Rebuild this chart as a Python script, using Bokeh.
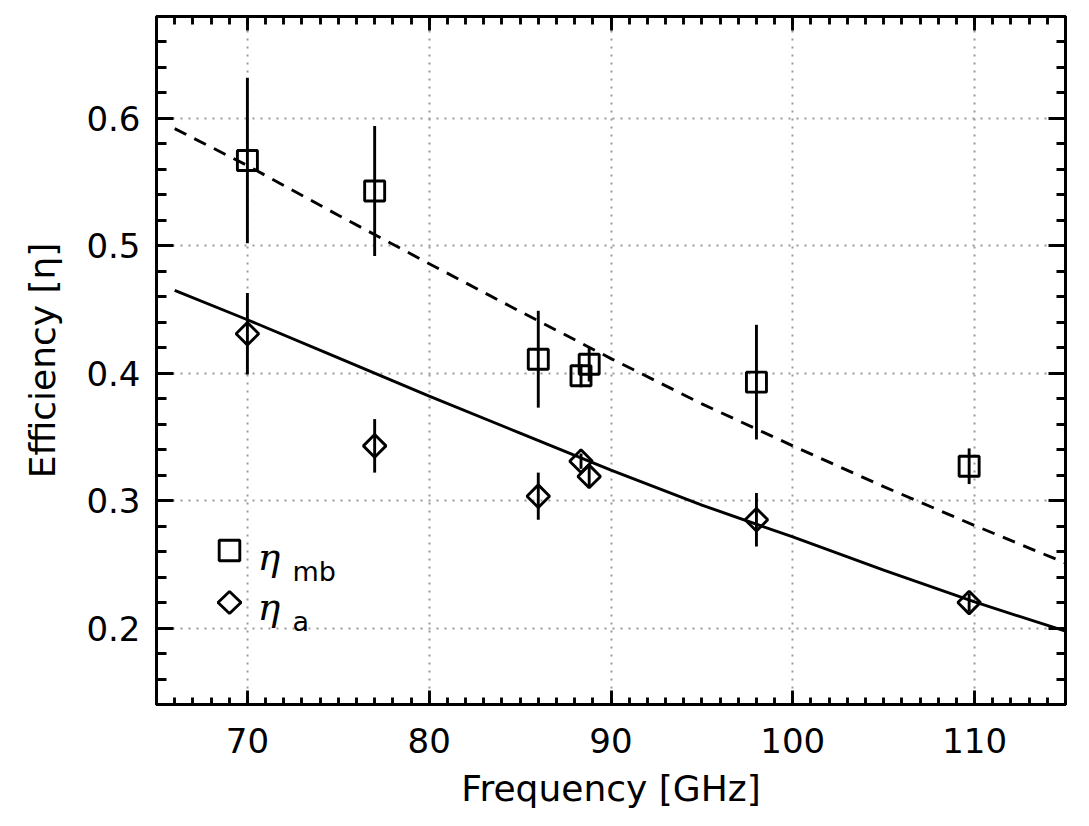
import math
from bokeh.plotting import figure
from bokeh.models import (Range1d, LinearAxis, SingleIntervalTicker, Label,
                          PolyAnnotation, ColumnDataSource, CustomJSTickFormatter)
from bokeh.embed import file_html
from bokeh.resources import INLINE

# ---------------- data ----------------
freq_mb = [70.0, 77.0, 86.0, 88.35, 88.8, 98.0, 109.7]
eta_mb = [0.567, 0.543, 0.411, 0.398, 0.407, 0.393, 0.327]
err_mb = [0.065, 0.051, 0.038, 0.009, 0.0135, 0.045, 0.014]

freq_a = [70.0, 77.0, 86.0, 88.35, 88.8, 98.0, 109.7]
eta_a = [0.431, 0.343, 0.3035, 0.331, 0.319, 0.285, 0.220]
err_a = [0.032, 0.021, 0.0185, 0.006, 0.009, 0.021, 0.007]

curve_freq = [66, 70, 75, 80, 85, 90, 95, 100, 105, 110, 115]
curve_mb = [0.592, 0.563, 0.524, 0.486, 0.4485, 0.4115, 0.376, 0.343, 0.311, 0.2805, 0.251]
curve_a = [0.465, 0.442, 0.412, 0.382, 0.353, 0.324, 0.2965, 0.2715, 0.2455, 0.2205, 0.1975]

x_label = "Frequency [GHz]"
y_label = "Efficiency [η]"
legend_main = "η"
legend_subs = ["mb", "a"]

# ---------------- figure ----------------
LW = 2.9
FONT = "DejaVu Sans"

p = figure(frame_width=909, frame_height=688,
           x_range=Range1d(65, 115), y_range=Range1d(0.14, 0.68),
           output_backend="svg", toolbar_location=None,
           min_border_left=156, min_border_right=16,
           min_border_top=16, min_border_bottom=114,
           background_fill_color="white", border_fill_color="white")

p.outline_line_color = "black"
p.outline_line_width = LW

p.xaxis.ticker = SingleIntervalTicker(interval=10, num_minor_ticks=10)
p.yaxis.ticker = SingleIntervalTicker(interval=0.1, num_minor_ticks=5)


def style_axis(ax, tick_major, tick_minor, labels=True):
    ax.axis_line_color = "black"
    ax.axis_line_width = LW
    ax.major_tick_line_color = "black"
    ax.major_tick_line_width = LW
    ax.minor_tick_line_color = "black"
    ax.minor_tick_line_width = LW
    ax.major_tick_in = tick_major
    ax.major_tick_out = 0
    ax.minor_tick_in = tick_minor
    ax.minor_tick_out = 0
    if labels:
        ax.major_label_text_font = FONT
        ax.major_label_text_font_size = "34px"
        ax.major_label_text_color = "black"
        ax.axis_label_text_font = FONT
        ax.axis_label_text_font_size = "36px"
        ax.axis_label_text_font_style = "normal"
        ax.axis_label_text_color = "black"
    else:
        ax.formatter = CustomJSTickFormatter(code="return ''")
        ax.major_label_text_font_size = "8px"
        ax.major_label_standoff = 0


style_axis(p.xaxis[0], 14, 7)
style_axis(p.yaxis[0], 17, 10)
p.xaxis[0].axis_label = x_label
p.yaxis[0].axis_label = y_label
p.xaxis[0].major_label_standoff = 23
p.xaxis[0].axis_label_standoff = 12
p.yaxis[0].major_label_standoff = 16
p.yaxis[0].axis_label_standoff = 20

top_ax = LinearAxis(ticker=SingleIntervalTicker(interval=10, num_minor_ticks=10))
right_ax = LinearAxis(ticker=SingleIntervalTicker(interval=0.1, num_minor_ticks=5))
style_axis(top_ax, 14, 8, labels=False)
style_axis(right_ax, 17, 9, labels=False)
p.add_layout(top_ax, "above")
p.add_layout(right_ax, "right")

for g in (p.xgrid[0], p.ygrid[0]):
    g.grid_line_color = "#999999"
    g.grid_line_width = 2
    g.grid_line_dash = "2 6"

# ---------------- model curves ----------------
p.line(curve_freq, curve_mb, line_color="black", line_width=LW, line_dash="13 9")
p.line(curve_freq, curve_a, line_color="black", line_width=LW)

# ---------------- error bars ----------------
src_mb = ColumnDataSource(dict(
    f=freq_mb, v=eta_mb,
    lo=[v - e for v, e in zip(eta_mb, err_mb)],
    hi=[v + e for v, e in zip(eta_mb, err_mb)]))
src_a = ColumnDataSource(dict(
    f=freq_a, v=eta_a,
    lo=[v - e for v, e in zip(eta_a, err_a)],
    hi=[v + e for v, e in zip(eta_a, err_a)]))

p.segment(x0="f", y0="lo", x1="f", y1="hi", source=src_mb, line_color="black", line_width=LW)
p.segment(x0="f", y0="lo", x1="f", y1="hi", source=src_a, line_color="black", line_width=LW)

# ---------------- markers ----------------
p.scatter(x="f", y="v", source=src_mb, marker="square", size=20,
          fill_alpha=0, line_color="black", line_width=LW)
p.scatter(x="f", y="v", source=src_a, marker="square", size=16, angle=math.pi / 4,
          fill_alpha=0, line_color="black", line_width=LW)

# ---------------- legend (screen units, relative to frame) ----------------
cx, cy1, cy2 = 73, 154, 102
h = 10.3
p.add_layout(PolyAnnotation(xs=[cx - h, cx + h, cx + h, cx - h], ys=[cy1 - h, cy1 - h, cy1 + h, cy1 + h],
                            xs_units="screen", ys_units="screen",
                            fill_alpha=0, line_color="black", line_alpha=1, line_width=LW))
p.add_layout(PolyAnnotation(xs=[cx - 11.5, cx, cx + 11.5, cx], ys=[cy2, cy2 - 11, cy2, cy2 + 11],
                            xs_units="screen", ys_units="screen",
                            fill_alpha=0, line_color="black", line_alpha=1, line_width=LW))

for base_y, sub in zip([148, 98], legend_subs):
    p.add_layout(Label(x=101, y=base_y, x_units="screen", y_units="screen", text=legend_main,
                       text_font="DejaVu Serif", text_font_style="italic",
                       text_font_size="38px", text_color="black", text_baseline="alphabetic"))
    p.add_layout(Label(x=136, y=base_y - 15, x_units="screen", y_units="screen", text=sub,
                       text_font=FONT, text_font_size="27px", text_color="black",
                       text_baseline="alphabetic"))

open("out.html", "w").write(file_html(p, INLINE))
